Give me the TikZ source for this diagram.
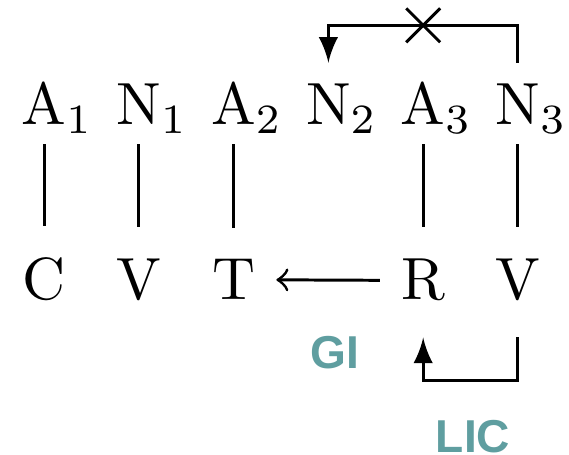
\documentclass[tikz,border=0pt]{standalone}
\usepackage{fontspec}
\newfontfamily\tagfont{Liberation Sans}
\usetikzlibrary{shapes.misc}
\definecolor{tagteal}{RGB}{95,158,160}

\begin{document}
\begin{tikzpicture}[x=1pt, y=1pt, line width=0.5pt,
    word/.style={anchor=base},
    link/.style={transform canvas={yshift=1.8pt}},
    cut/.style={draw, cross out, minimum size=5.2pt, inner sep=0pt},
    tag/.style={anchor=base, text=tagteal, font=\tagfont\bfseries\fontsize{7.75}{9}\selectfont}]
\useasboundingbox (0,0) rectangle (95.63,76.47);
\begin{scope}[every node/.style={word}]
    \node (a1) at (7.4,55.5)   {A\rlap{$_1$}};
    \node (n1) at (23.33,55.5) {N\rlap{$_1$}};
    \node (a2) at (39.26,55.5) {A\rlap{$_2$}};
    \node (n2) at (55.19,55.5) {N\rlap{$_2$}};
    \node (a3) at (71.12,55.5) {A\rlap{$_3$}};
    \node (n3) at (87.05,55.5) {N\rlap{$_3$}};
    \node (c)  at (7.4,26.05)   {C};
    \node (v1) at (23.33,26.05) {V};
    \node (t)  at (39.26,26.05) {T};
    \node (r)  at (71.12,26.05) {R};
    \node (v2) at (87.05,26.05) {V};
\end{scope}
\draw[link] (a1.south) -- (c.north);
\draw[link] (n1.south) -- (v1.north);
\draw[link] (a2.south) -- (t.north);
\draw[link] (a3.south) -- (r.north);
\draw[link] (n3.south) -- (v2.north);
\draw[->] (r.west) -- (t.east);
%% blocked loop on top
\draw[-latex] (n3.north) -- ++(0,6.3) coordinate (top) -| (n2.north);
\node[cut] (x) at (a3 |- top) {};
%% loop below
\draw[-latex] ([yshift=-2.5pt]v2.south) -- ++(0,-7.3) -| ([yshift=-2.5pt]r.south);
\node[tag] (gi) at (56.3,14.6) {GI};
\node[tag] (lic) at (79.5,0.5) {LIC};
\end{tikzpicture}
\end{document}
